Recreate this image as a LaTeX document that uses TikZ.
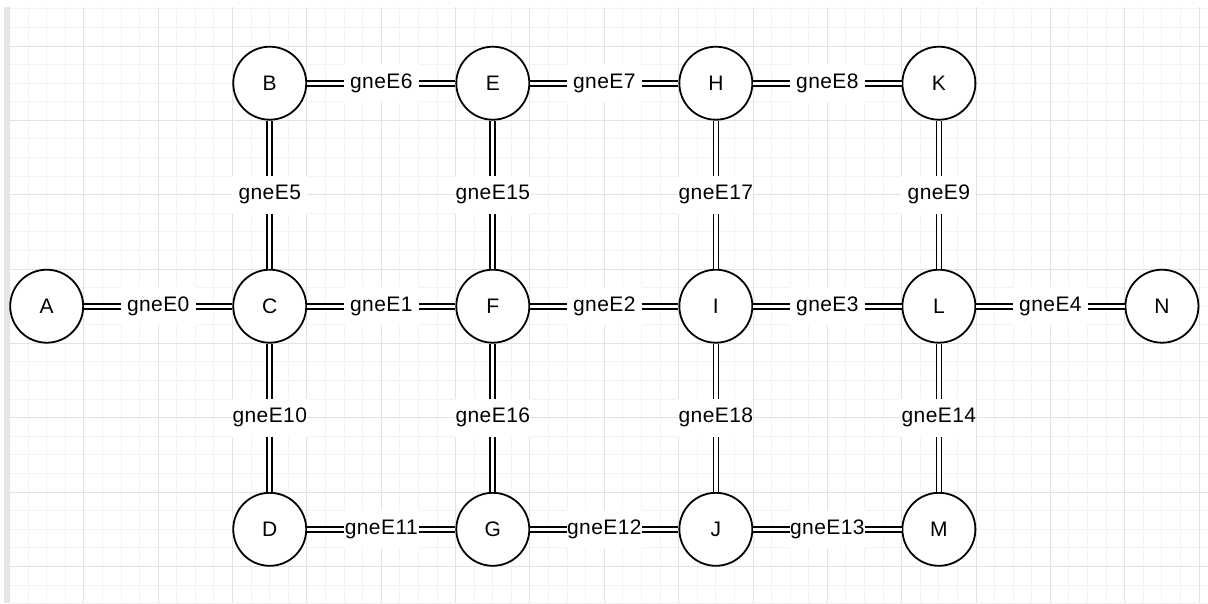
\documentclass[tikz,border=0pt]{standalone}
\usepackage{fontspec}
\setmainfont{Liberation Sans}
\newfontfamily\edgefont[LetterSpace=2]{Liberation Sans}
\definecolor{gridminor}{RGB}{243,243,243}
\definecolor{gridmajor}{RGB}{226,226,226}
\definecolor{edgebar}{RGB}{230,230,230}
\begin{document}
\begin{tikzpicture}[x=1pt,y=-1pt,
  vertex/.style={circle,draw=black,line width=1.8pt,fill=white,
    minimum size=73pt,inner sep=0pt,font=\fontsize{21}{21}\selectfont},
  link/.style={draw=black,double=white,line width=1.7pt,double distance=3.3pt},
  tag/.style={fill=white,inner sep=0pt,minimum width=75pt,minimum height=38pt,
    font=\edgefont\fontsize{21}{21}\selectfont},
  minorline/.style={draw=gridminor,line width=1pt},
  majorline/.style={draw=gridmajor,line width=1pt}]
\useasboundingbox (0,0) rectangle (1208,603);
\fill[white] (0,0) rectangle (1208,603);
% canvas grid
\begin{scope}
  \clip (9,7) rectangle (1208,603);
  \foreach \k in {0,...,64} {
    \draw[minorline] ({9.5+18.5875*\k},0) -- ({9.5+18.5875*\k},603);
  }
  \foreach \k in {-2,...,30} {
    \draw[minorline] (0,{46+18.5875*\k}) -- (1208,{46+18.5875*\k});
  }
  \foreach \k in {0,...,16} {
    \draw[majorline] ({9.5+74.35*\k},0) -- ({9.5+74.35*\k},603);
  }
  \foreach \k in {0,...,7} {
    \draw[majorline] (0,{46+74.35*\k}) -- (1208,{46+74.35*\k});
  }
\end{scope}
% left edge bar
\fill[edgebar] (3.5,7) rectangle (8.5,603);
% vertices
\node[vertex] (A) at (46.7,306.2) {A};
\node[vertex] (B) at (269.75,83.2) {B};
\node[vertex] (C) at (269.75,306.2) {C};
\node[vertex] (D) at (269.75,529.3) {D};
\node[vertex] (E) at (492.8,83.2) {E};
\node[vertex] (F) at (492.8,306.2) {F};
\node[vertex] (G) at (492.8,529.3) {G};
\node[vertex] (H) at (715.85,83.2) {H};
\node[vertex] (I) at (715.85,306.2) {I};
\node[vertex] (J) at (715.85,529.3) {J};
\node[vertex] (K) at (938.9,83.2) {K};
\node[vertex] (L) at (938.9,306.2) {L};
\node[vertex] (M) at (938.9,529.3) {M};
\node[vertex] (N) at (1161.95,306.2) {N};
% edges
\path[link] (A) -- node[tag] {gneE0} (C);
\path[link] (C) -- node[tag] {gneE1} (F);
\path[link] (F) -- node[tag] {gneE2} (I);
\path[link] (I) -- node[tag] {gneE3} (L);
\path[link] (L) -- node[tag] {gneE4} (N);
\path[link] (C) -- node[tag] {gneE5} (B);
\path[link] (B) -- node[tag] {gneE6} (E);
\path[link] (E) -- node[tag] {gneE7} (H);
\path[link] (H) -- node[tag] {gneE8} (K);
\path[link] (K) -- node[tag] {gneE9} (L);
\path[link] (C) -- node[tag] {gneE10} (D);
\path[link] (D) -- node[tag] {gneE11} (G);
\path[link] (G) -- node[tag] {gneE12} (J);
\path[link] (J) -- node[tag] {gneE13} (M);
\path[link] (L) -- node[tag] {gneE14} (M);
\path[link] (E) -- node[tag] {gneE15} (F);
\path[link] (F) -- node[tag] {gneE16} (G);
\path[link] (H) -- node[tag] {gneE17} (I);
\path[link] (I) -- node[tag] {gneE18} (J);
\end{tikzpicture}
\end{document}
